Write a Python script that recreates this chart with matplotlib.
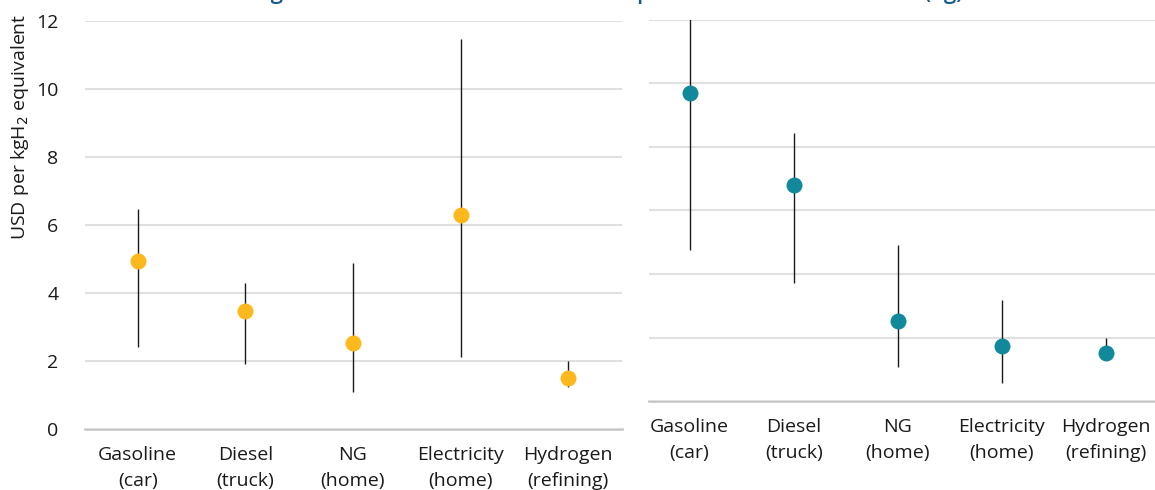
import matplotlib.pyplot as plt

plt.rcParams['font.family'] = ['Open Sans', 'DejaVu Sans']

categories = ['Gasoline\n(car)', 'Diesel\n(truck)', 'NG\n(home)', 'Electricity\n(home)', 'Hydrogen\n(refining)']

# left panel: USD per kgH2 equivalent
left_mid = [4.93, 3.48, 2.52, 6.29, 1.49]
left_low = [2.42, 1.91, 1.08, 2.11, 1.24]
left_high = [6.47, 4.30, 4.89, 11.47, 2.01]

# right panel (no tick labels in the source)
right_mid = [9.69, 6.79, 2.52, 1.73, 1.51]
right_low = [4.76, 3.73, 1.07, 0.57, 1.40]
right_high = [12.5, 8.43, 4.91, 3.18, 1.98]

yticks = [0, 2, 4, 6, 8, 10, 12]

W, H = 1155, 490
fig = plt.figure(figsize=(W / 100, H / 100), dpi=100)


def box(x0, x1, ytop, ybot):
    return [x0 / W, 1 - ybot / H, (x1 - x0) / W, (ybot - ytop) / H]


ax1 = fig.add_axes(box(85, 622, 21, 429))
ax2 = fig.add_axes(box(649, 1155, 20, 401))


def draw(ax, mid, low, high, color, xlim):
    x = list(range(len(categories)))
    ax.vlines(x, low, high, color='#1a1a1a', lw=1.0, zorder=2)
    ax.plot(x, mid, 'o', ms=11.5, color=color, mec='none', zorder=3)
    ax.set_xlim(*xlim)
    ax.set_ylim(0, 12)
    ax.set_yticks(yticks)
    ax.set_xticks(x)
    ax.set_xticklabels(categories, fontsize=14, color='#1a1a1a', linespacing=1.6)
    ax.grid(axis='y', color='#e0e0e0', lw=1.5, zorder=0)
    ax.axhline(0, color='#c4c4c4', lw=1.8, zorder=1, clip_on=False)
    for s in ax.spines.values():
        s.set_visible(False)
    ax.tick_params(length=0, axis='x', pad=12)
    ax.tick_params(length=0, axis='y', pad=19, labelsize=14, labelcolor='#1a1a1a')


draw(ax1, left_mid, left_low, left_high, '#fdb81e', (-0.49, 4.5))
draw(ax2, right_mid, right_low, right_high, '#12899a', (-0.39, 4.47))
ax2.set_yticklabels([])

fig.text(20 / W, 1 - 240 / H, 'USD per kgH$_2$ equivalent', rotation=90,
         ha='center', va='bottom', fontsize=14, color='#1a1a1a')

fig.text(209 / W, 1 + 1.5 / H,
         'Average retail cost of end-use fuels compared at an identical basis (kg)',
         ha='left', va='baseline', fontsize=16, fontweight='semibold', color='#165a8e')

fig.savefig('out.png', dpi=100)
